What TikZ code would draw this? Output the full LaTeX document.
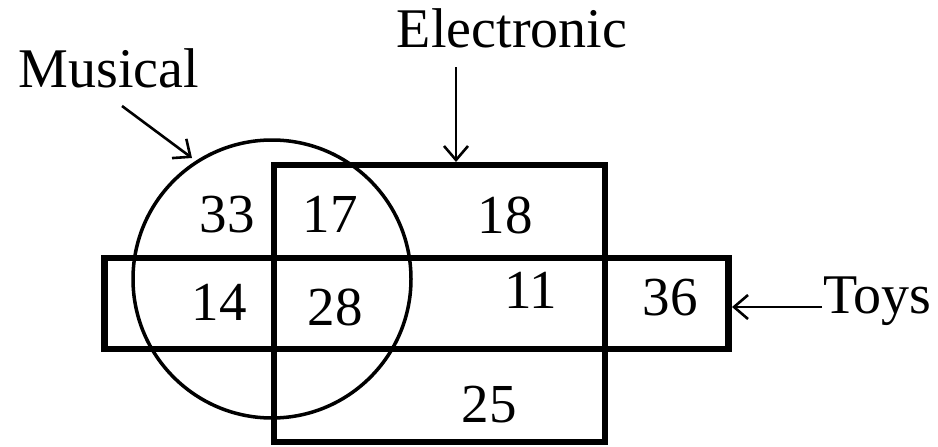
\documentclass[tikz,border=0pt]{standalone}
\usepackage{fontspec}
\setmainfont{Liberation Serif}
\usetikzlibrary{arrows.meta}
\begin{document}
\begin{tikzpicture}[x=1pt,y=-1pt,
  setbox/.style={draw, line width=6.5pt, rectangle, inner sep=0pt},
  setcircle/.style={draw, line width=3.5pt, circle, inner sep=0pt, minimum size=278pt},
  num/.style={anchor=base, inner sep=0pt, font=\fontsize{55}{60}\selectfont},
  lbl/.style={inner sep=0pt, font=\fontsize{56}{60}\selectfont},
  pointer/.style={line width=2.6pt, -{Straight Barb[length=14pt,width=24pt,line width=2.6pt]}}]
\useasboundingbox (0,0) rectangle (938,447);
% sets
\node[setbox, minimum width=331pt, minimum height=277pt] (elec) at (439.5,303.5) {};
\node[setbox, minimum width=624pt, minimum height=91pt] (toys) at (416.5,303.5) {};
\node[setcircle] (mus) at (272,279) {};
% region numbers
\node[num] (n33) at (227,232) {33};
\node[num] (n17) at (330,232) {17};
\node[num] (n18) at (505,233) {18};
\node[num] (n14) at (219,320) {14};
\node[num] (n28) at (335,325) {28};
\node[num] (n11) at (531,308) {11};
\node[num] (n36) at (670,315) {36};
\node[num] (n25) at (489,422) {25};
% labels
\node[lbl, anchor=base] (lelec) at (512,47) {Electronic};
\node[lbl, anchor=base] (lmus) at (109,87) {Musical};
\node[lbl, anchor=base west] (ltoys) at (823,313) {Toys};
% pointers
\coordinate (emstart) at (456,67);
\coordinate (emend) at (456,162);
\coordinate (msstart) at (122,106);
\coordinate (msend) at (192,158);
\coordinate (tystart) at (822,307);
\coordinate (tyend) at (732,307);
\draw[pointer] (emstart) -- (emend);
\draw[pointer] (msstart) -- (msend);
\draw[pointer] (tystart) -- (tyend);
\end{tikzpicture}
\end{document}
